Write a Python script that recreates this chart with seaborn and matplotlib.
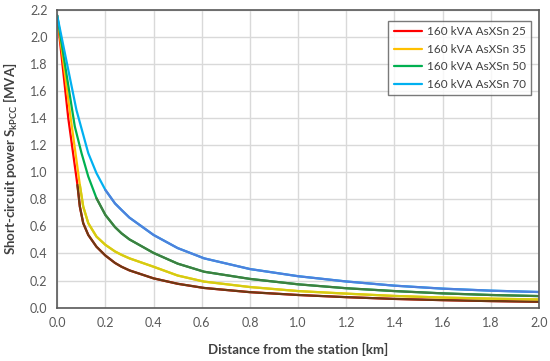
import matplotlib
matplotlib.use("Agg")
import matplotlib.pyplot as plt
import pandas as pd
import seaborn as sns

# distances [km] and short-circuit power [MVA]
dist_25 = [0, 0.046, 0.084, 0.094, 0.108, 0.129, 0.163, 0.2, 0.24, 0.267, 0.3, 0.4, 0.5, 0.61, 0.8, 1.0, 1.2, 1.4, 1.6, 1.8, 2.0]
sk_25 = [2.16, 1.40, 0.907, 0.747, 0.624, 0.537, 0.45, 0.385, 0.33, 0.302, 0.275, 0.216, 0.176, 0.145, 0.114, 0.093, 0.077, 0.064, 0.055, 0.048, 0.043]

dist_35 = [0, 0.057, 0.094, 0.108, 0.129, 0.163, 0.2, 0.24, 0.267, 0.3, 0.4, 0.5, 0.61, 0.8, 1.0, 1.2, 1.4, 1.6, 1.8, 2.0]
sk_35 = [2.16, 1.39, 0.907, 0.747, 0.624, 0.525, 0.464, 0.415, 0.39, 0.364, 0.302, 0.237, 0.192, 0.152, 0.122, 0.103, 0.086, 0.074, 0.066, 0.060]

dist_50 = [0, 0.073, 0.101, 0.129, 0.163, 0.2, 0.24, 0.267, 0.3, 0.4, 0.5, 0.61, 0.8, 1.0, 1.2, 1.4, 1.6, 1.8, 2.0]
sk_50 = [2.16, 1.34, 1.142, 0.969, 0.809, 0.685, 0.595, 0.549, 0.504, 0.404, 0.325, 0.265, 0.212, 0.172, 0.143, 0.122, 0.105, 0.093, 0.085]

dist_70 = [0, 0.080, 0.129, 0.163, 0.2, 0.24, 0.267, 0.3, 0.4, 0.5, 0.61, 0.8, 1.0, 1.2, 1.4, 1.6, 1.8, 2.0]
sk_70 = [2.16, 1.46, 1.142, 0.994, 0.87, 0.77, 0.722, 0.665, 0.537, 0.44, 0.364, 0.285, 0.232, 0.193, 0.162, 0.140, 0.125, 0.115]

labels = ["160 kVA AsXSn 25", "160 kVA AsXSn 35", "160 kVA AsXSn 50", "160 kVA AsXSn 70"]
colors = ["#FF0000", "#FFC000", "#00B050", "#00B0F0"]
# the lower part of each curve looks darker in the picture
dark_colors = ["#6B3A14", "#D4CC12", "#3F7F3F", "#4F80DC"]

frames = []
for lab, xs, ys in zip(labels, [dist_25, dist_35, dist_50, dist_70], [sk_25, sk_35, sk_50, sk_70]):
    frames.append(pd.DataFrame({"distance": xs, "power": ys, "cable": lab}))
df = pd.concat(frames, ignore_index=True)

sns.set_theme(style="white")
plt.rcParams["font.family"] = ["Lato", "DejaVu Sans"]
plt.rcParams["mathtext.fontset"] = "custom"
plt.rcParams["mathtext.rm"] = "Lato"
plt.rcParams["mathtext.bf"] = "Lato:bold"

fig = plt.figure(figsize=(5.5, 3.61), dpi=100)
ax = fig.add_axes([0.104, 0.148, 0.876, 0.824])

sns.lineplot(data=df, x="distance", y="power", hue="cable", palette=colors,
             linewidth=1.6, ax=ax, sort=False)
low = df[df["power"] <= 0.91]
sns.lineplot(data=low, x="distance", y="power", hue="cable", palette=dark_colors,
             linewidth=1.6, ax=ax, sort=False, legend=False)

ax.set_xlim(0, 2.0)
ax.set_ylim(0, 2.2)
ax.set_xticks([i * 0.2 for i in range(11)])
ax.set_yticks([i * 0.2 for i in range(12)])
ax.xaxis.set_major_formatter(matplotlib.ticker.FormatStrFormatter("%.1f"))
ax.yaxis.set_major_formatter(matplotlib.ticker.FormatStrFormatter("%.1f"))
ax.grid(True, color="#d9d9d9", linewidth=1)
ax.set_axisbelow(True)
ax.tick_params(length=0, labelsize=9, labelcolor="#595959", pad=7)
for sp in ax.spines.values():
    sp.set_color("#595959")
    sp.set_linewidth(1.2)

ax.set_xlabel("Distance from the station [km]", fontsize=9.5, fontweight="bold",
              color="#404040", labelpad=10)
ax.set_ylabel(r"Short-circuit power S$_\mathbf{kPCC}$ [MVA]", fontsize=9.5,
              fontweight="bold", color="#404040", labelpad=7)

leg = ax.legend(loc="upper right", fontsize=8.5, frameon=True, fancybox=False,
                handlelength=2.4, borderpad=0.45, labelspacing=0.55,
                handletextpad=0.4, bbox_to_anchor=(0.996, 0.983))
leg.set_title(None)
leg.get_frame().set_edgecolor("#595959")
leg.get_frame().set_linewidth(1.0)
for t in leg.get_texts():
    t.set_color("#404040")
for h in leg.get_lines():
    h.set_linewidth(1.6)

fig.savefig("out.png", dpi=100)
